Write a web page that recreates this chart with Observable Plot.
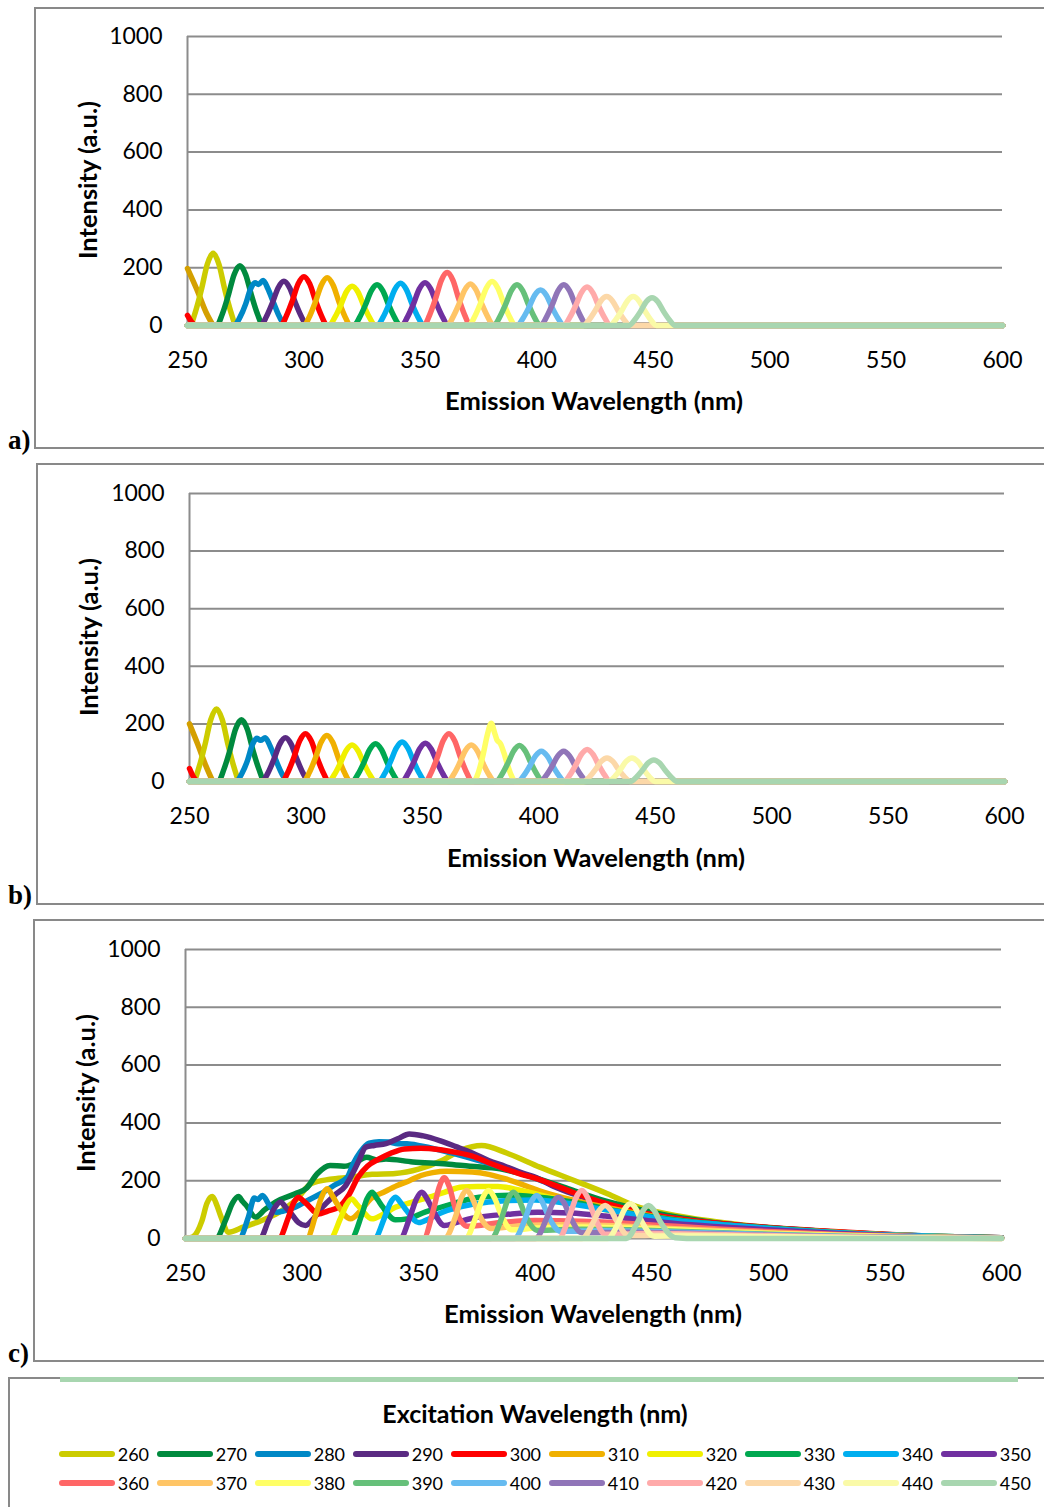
<!DOCTYPE html>
<html><head><meta charset="utf-8">
<script src="https://cdn.jsdelivr.net/npm/d3@7"></script>
<script src="https://cdn.jsdelivr.net/npm/@observablehq/plot@0.6"></script>
<style>
html,body{margin:0;padding:0;background:#fff;}
body{width:1044px;height:1507px;overflow:hidden;position:relative;font-family:Lato,"Open Sans",sans-serif;color:#000;}
.abs{position:absolute;}
.frame{position:absolute;border:2px solid #898989;box-sizing:border-box;}
.ctr{position:absolute;transform:translate(-50%,-50%);white-space:nowrap;}
.ttl{font-weight:bold;font-size:25.5px;}
.plab{position:absolute;font-family:"Liberation Serif","Times New Roman",serif;font-weight:bold;font-size:27px;line-height:1;}
svg{overflow:visible;}
</style></head><body>
<script>
// ---------- data ----------
const excitation = [260,270,280,290,300,310,320,330,340,350,360,370,380,390,400,410,420,430,440,450];
const palette = ["#cccc00","#008a3e","#0088c6","#5a2a82","#ff0000","#f0b000","#f0f000","#00a850","#00aeef","#7030a0",
                 "#ff6666","#ffc566","#ffff66","#66c07a","#66bbf0","#9075b8","#ffaaaa","#fcd8a8","#fafaa8","#a8d6b0"];
const xTicks = [250,300,350,400,450,500,550,600];
const yTicks = [0,200,400,600,800,1000];
const xTitle = "Emission Wavelength (nm)";
const yTitle = "Intensity (a.u.)";
const legendTitle = "Excitation Wavelength (nm)";

// unlabelled scatter tail at the left edge (panels a, b)
const extraA = [[250,197],[254,125],[258,45],[261,0]];
const extraB = [[250,200],[253.5,130],[257,55],[260,0]];

const spectraA = [
 [[250,0],[251,0],[253.5,50],[256,125],[258.5,212],[261,250],[263.5,212],[266,125],[268.5,50],[271,0],[600,0]],
 [[250,0],[262.5,0],[265,41],[267.5,104],[270,176],[272.5,207],[275,176],[277.5,104],[280,41],[282.5,0],[600,0]],
 [[250,0],[270,0],[272.5,28],[275,75],[277,125],[279,148],[280.5,142],[282.5,156],[284.5,128],[287,78],[289.5,30],[292,0],[600,0]],
 [[250,0],[281.4,0],[283.9,31],[286.4,77],[288.9,130],[291.4,153],[293.9,130],[296.4,77],[298.9,31],[301.4,0],[600,0]],
 [[250,35],[252,10],[254,0],[290,0],[292.5,34],[295,85],[297.5,144],[300,169],[302.5,144],[305,85],[307.5,34],[310,0],[600,0]],
 [[250,0],[300,0],[302.5,33],[305,83],[307.5,140],[310,165],[312.5,140],[315,83],[317.5,33],[320,0],[600,0]],
 [[250,0],[310.7,0],[313.2,27],[315.7,68],[318.2,116],[320.7,136],[323.2,116],[325.7,68],[328.2,27],[330.7,0],[600,0]],
 [[250,0],[321.4,0],[323.9,28],[326.4,71],[328.9,120],[331.4,141],[333.9,120],[336.4,71],[338.9,28],[341.4,0],[600,0]],
 [[250,0],[331.5,0],[334,29],[336.5,73],[339,124],[341.5,146],[344,124],[346.5,73],[349,29],[351.5,0],[600,0]],
 [[250,0],[342,0],[344.5,30],[347,74],[349.5,126],[352,148],[354.5,126],[357,74],[359.5,30],[362,0],[600,0]],
 [[250,0],[351.5,0],[354,37],[356.5,92],[359,156],[361.5,183],[364,156],[366.5,92],[369,37],[371.5,0],[600,0]],
 [[250,0],[361.5,0],[364,29],[366.5,72],[369,122],[371.5,144],[374,122],[376.5,72],[379,29],[381.5,0],[600,0]],
 [[250,0],[370.8,0],[373.3,30],[375.8,76],[378.3,129],[380.8,152],[383.3,129],[385.8,76],[388.3,30],[390.8,0],[600,0]],
 [[250,0],[381.5,0],[384,28],[386.5,71],[389,120],[391.5,141],[394,120],[396.5,71],[399,28],[401.5,0],[600,0]],
 [[250,0],[391.6,0],[394.1,25],[396.6,62],[399.1,105],[401.6,123],[404.1,105],[406.6,62],[409.1,25],[411.6,0],[600,0]],
 [[250,0],[401.6,0],[404.1,28],[406.6,71],[409.1,120],[411.6,141],[414.1,120],[416.6,71],[419.1,28],[421.6,0],[600,0]],
 [[250,0],[411.6,0],[414.1,27],[416.6,67],[419.1,113],[421.6,133],[424.1,113],[426.6,67],[429.1,27],[431.6,0],[600,0]],
 [[250,0],[420,0],[422.5,20],[425,50],[427.5,85],[430,100],[432.5,85],[435,50],[437.5,20],[440,0],[600,0]],
 [[250,0],[431.4,0],[433.9,20],[436.4,50],[438.9,85],[441.4,100],[443.9,85],[446.4,50],[448.9,20],[451.4,0],[600,0]],
 [[250,0],[439.5,0],[442,19],[444.5,48],[447,82],[449.5,96],[452,82],[454.5,48],[457,19],[459.5,0],[600,0]]
];

const spectraB = [
 [[250,0],[251.6,0],[254.1,50],[256.6,126],[259.1,214],[261.6,252],[264.1,214],[266.6,126],[269.1,50],[271.6,0],[600,0]],
 [[250,0],[262.3,0],[264.8,43],[267.3,107],[269.8,182],[272.3,214],[274.8,182],[277.3,107],[279.8,43],[282.3,0],[600,0]],
 [[250,0],[270,0],[272.5,28],[275,75],[277,128],[279,150],[280.5,143],[282.5,152],[284.5,125],[287,76],[289.5,30],[292,0],[600,0]],
 [[250,0],[281.2,0],[283.7,30],[286.2,76],[288.7,129],[291.2,152],[293.7,129],[296.2,76],[298.7,30],[301.2,0],[600,0]],
 [[250,45],[252,12],[254,0],[289.8,0],[292.3,33],[294.8,83],[297.3,141],[299.8,166],[302.3,141],[304.8,83],[307.3,33],[309.8,0],[600,0]],
 [[250,0],[299,0],[301.5,32],[304,80],[306.5,136],[309,160],[311.5,136],[314,80],[316.5,32],[319,0],[600,0]],
 [[250,0],[309.8,0],[312.3,25],[314.8,64],[317.3,108],[319.8,127],[322.3,108],[324.8,64],[327.3,25],[329.8,0],[600,0]],
 [[250,0],[319.9,0],[322.4,26],[324.9,66],[327.4,111],[329.9,131],[332.4,111],[334.9,66],[337.4,26],[339.9,0],[600,0]],
 [[250,0],[331.3,0],[333.8,27],[336.3,69],[338.8,116],[341.3,137],[343.8,116],[346.3,69],[348.8,27],[351.3,0],[600,0]],
 [[250,0],[341.3,0],[343.8,27],[346.3,67],[348.8,113],[351.3,133],[353.8,113],[356.3,67],[358.8,27],[361.3,0],[600,0]],
 [[250,0],[351.4,0],[353.9,33],[356.4,83],[358.9,141],[361.4,166],[363.9,141],[366.4,83],[368.9,33],[371.4,0],[600,0]],
 [[250,0],[361,0],[363.5,25],[366,64],[368.5,108],[371,127],[373.5,108],[376,64],[378.5,25],[381,0],[600,0]],
 [[250,0],[372,0],[374,30],[376,90],[378,165],[379.6,202],[381,170],[382,145],[383.5,132],[385,100],[386.5,60],[388,25],[390,0],[600,0]],
 [[250,0],[381.7,0],[384.2,25],[386.7,63],[389.2,106],[391.7,125],[394.2,106],[396.7,63],[399.2,25],[401.7,0],[600,0]],
 [[250,0],[391.1,0],[393.6,21],[396.1,53],[398.6,89],[401.1,105],[403.6,89],[406.1,53],[408.6,21],[411.1,0],[600,0]],
 [[250,0],[400.7,0],[403.2,21],[405.7,53],[408.2,89],[410.7,105],[413.2,89],[415.7,53],[418.2,21],[420.7,0],[600,0]],
 [[250,0],[410.8,0],[413.3,22],[415.8,56],[418.3,94],[420.8,111],[423.3,94],[425.8,56],[428.3,22],[430.8,0],[600,0]],
 [[250,0],[419.3,0],[421.8,16],[424.3,41],[426.8,70],[429.3,82],[431.8,70],[434.3,41],[436.8,16],[439.3,0],[600,0]],
 [[250,0],[430,0],[432.5,16],[435,41],[437.5,70],[440,82],[442.5,70],[445,41],[447.5,16],[450,0],[600,0]],
 [[250,0],[439.4,0],[441.9,15],[444.4,38],[446.9,64],[449.4,75],[451.9,64],[454.4,38],[456.9,15],[459.4,0],[600,0]]
];

const spectraC = [
 [[250,0],[253,5],[257,60],[259.2,122],[261.5,145],[263.3,118],[265,80],[268.5,22],[275,40],[282,60],[290,90],[297,130],[304,190],[312,205],[321,212],[330,222],[340,225],[350,240],[360,270],[368,305],[377,322],[388,295],[402,247],[417,200],[431,155],[442,115],[460,80],[474,62],[488,48],[520,25],[550,12],[575,5],[600,2]],
 [[250,0],[263,0],[267.5,70],[270.2,123],[272.7,145],[274.5,128],[276,115],[280,74],[284,100],[288.6,126],[297,155],[302,175],[306.5,224],[312,253],[318,250],[322,258],[327.7,281],[332,272],[336,275],[347.5,265],[362,258],[372,250],[385,241],[400,210],[415,170],[430,130],[445,100],[460,75],[474,58],[488,45],[520,27],[550,14],[575,7],[600,3]],
 [[250,0],[273,0],[277,75],[279.5,140],[281,135],[283,149],[286,115],[289,91],[292,95],[297,108],[302,130],[308,155],[314,185],[319.4,212],[322,260],[325,300],[328.8,330],[333,335],[337,334],[341,328],[345,328],[351,320],[357,310],[364,296],[371,281],[378,265],[385,247],[394,225],[401.5,204],[416,158],[430,121],[444,92],[460,70],[474,56],[488,45],[520,27],[550,14],[575,7],[600,3]],
 [[250,0],[282,0],[285.5,60],[288.3,107],[290.8,126],[293,108],[295,90],[298.5,55],[301.5,45],[305,70],[308.7,108],[314,150],[318.7,183],[322,230],[324.4,270],[327.3,316],[331,322],[336,328],[341,345],[346,362],[352,355],[359,339],[366,318],[373,296],[380,270],[387,250],[394,228],[401.5,207],[408,180],[416,155],[423,137],[430,120],[437,105],[444,91],[452,80],[460,69],[474,55],[488,45],[510,31],[530,21],[550,13],[575,6],[600,2]],
 [[250,0],[290,0],[294,70],[296.3,122],[298.5,143],[300.3,132],[302,120],[307,85],[311,95],[315.6,108],[320,150],[324,212],[328,250],[333,275],[338,295],[344,310],[351,312],[358.5,308],[366,298],[373,285],[380,262],[387,241],[394,222],[401.5,205],[416,160],[430,122],[444,93],[460,70],[474,56],[488,46],[520,28],[550,15],[575,7],[600,3]],
 [[250,0],[302,0],[306,85],[308.5,146],[310.8,172],[313,148],[315,120],[320.8,68],[325,95],[329.4,137],[335,160],[340.8,183],[346,200],[351,218],[356,228],[362,233],[373,230],[380,222],[387,207],[394,188],[401.5,166],[415,135],[430,108],[445,85],[460,65],[474,52],[488,42],[520,25],[550,13],[575,6],[600,2]],
 [[250,0],[312,0],[316.5,70],[319,116],[321.3,137],[323.5,118],[325.5,100],[330,68],[335,85],[340,108],[347,125],[354.5,143],[361,160],[368.7,178],[375,180],[384,180],[394,166],[405,145],[420,118],[435,92],[450,72],[465,57],[480,46],[500,35],[530,20],[560,10],[600,2]],
 [[250,0],[321,0],[325.5,80],[327.8,136],[330,160],[332.3,136],[334.5,110],[340,65],[345,68],[353,92],[362,114],[376,143],[390,150],[405,140],[420,120],[435,95],[450,75],[470,55],[490,42],[520,25],[550,12],[600,2]],
 [[250,0],[331,0],[335.5,75],[337.8,122],[340,143],[342.5,122],[345,95],[350,55],[355,70],[360,90],[373,118],[387,131],[400,133],[415,120],[430,100],[445,80],[460,62],[480,48],[500,35],[530,20],[560,10],[600,2]],
 [[250,0],[342,0],[346.5,80],[349,136],[351.4,160],[353.7,136],[356,100],[361,45],[366,55],[373,70],[390,85],[401,91],[415,88],[430,78],[445,65],[460,52],[480,40],[500,30],[530,17],[560,8],[600,2]],
 [[250,0],[352,0],[356.5,105],[358.8,178],[361,210],[363.2,178],[365.5,110],[371,42],[385,55],[400,62],[420,60],[440,52],[460,42],[480,32],[500,24],[530,14],[560,7],[600,1]],
 [[250,0],[361,0],[366,80],[368.3,141],[370.7,166],[373,140],[375.5,90],[381,35],[395,45],[410,48],[430,45],[450,38],[470,30],[500,20],[530,12],[600,1]],
 [[250,0],[370,0],[375,85],[377.5,141],[380,166],[382.5,141],[385,90],[390,30],[400,36],[420,40],[440,36],[460,30],[490,20],[530,10],[600,1]],
 [[250,0],[381,0],[386,80],[388.3,136],[390.7,160],[393,136],[395.5,85],[401,28],[420,32],[440,30],[460,25],[490,17],[530,8],[600,1]],
 [[250,0],[391,0],[396,75],[398.3,127],[400.7,149],[403,127],[405.5,80],[411,25],[430,27],[450,24],[470,20],[500,13],[540,6],[600,1]],
 [[250,0],[400,0],[405,72],[407.5,122],[410,143],[412.5,122],[415,75],[420,20],[440,22],[460,19],[490,13],[530,6],[600,1]],
 [[250,0],[410,0],[415,85],[417.5,141],[420,166],[422.5,141],[425,85],[430,15],[450,17],[470,15],[500,10],[540,4],[600,0]],
 [[250,0],[420,0],[425,58],[427.5,97],[430,114],[432.5,97],[435,60],[440,10],[460,12],[490,9],[530,4],[600,0]],
 [[250,0],[431,0],[436,60],[438.4,102],[440.8,120],[443.2,102],[445.5,62],[451,8],[470,9],[500,6],[540,2],[600,0]],
 [[250,0],[439,0],[444,58],[446.3,97],[448.6,114],[451,97],[453.5,60],[460,3],[470,0],[600,0]]
];

// ---------- drawing ----------
const GRID = "#8c8c8c";
const LW = 5.5;
const TICK_FS = 23;
const panels = [
  {spectra: spectraA, extra: extraA, extraColor: "#d4a000", frame:{l:34,t:7,b:448}, plot:{l:187,r:1002,t:36,b:325}, lab:"a)", labY:449, xt:{x:594,y:400}, yt:{x:87,y:180}},
  {spectra: spectraB, extra: extraB, extraColor: "#d4a000", frame:{l:36,t:463,b:904}, plot:{l:189,r:1004,t:493,b:781}, lab:"b)", labY:904, xt:{x:596,y:857}, yt:{x:88,y:637}},
  {spectra: spectraC, extra: null, frame:{l:33,t:919,b:1361}, plot:{l:185,r:1001,t:949,b:1238}, lab:"c)", labY:1362, xt:{x:593,y:1313}, yt:{x:85,y:1093}}
];

function addDiv(cls, css, html){
  const d = document.createElement("div");
  d.className = cls; d.style.cssText = css; if (html != null) d.innerHTML = html;
  document.body.appendChild(d); return d;
}

for (const p of panels) {
  addDiv("frame", `left:${p.frame.l}px;top:${p.frame.t}px;width:1200px;height:${p.frame.b - p.frame.t + 1}px;`);
  const svgTop = p.frame.t + 4;
  const marginBottom = 70;
  const lineMarks = [];
  const lineOpts = {x: d => d[0], y: d => d[1], strokeWidth: LW, curve: "monotone-x", strokeLinecap: "round", strokeLinejoin: "round"};
  if (p.extra) lineMarks.push(Plot.line(p.extra, {...lineOpts, stroke: p.extraColor}));
  p.spectra.forEach((s, i) => lineMarks.push(Plot.line(s, {...lineOpts, stroke: palette[i]})));
  const chart = Plot.plot({
    width: 1044,
    height: p.plot.b - svgTop + marginBottom,
    marginTop: p.plot.t - svgTop,
    marginLeft: p.plot.l,
    marginRight: 1044 - p.plot.r,
    marginBottom,
    x: {domain: [250, 600]},
    y: {domain: [0, 1000]},
    style: {fontFamily: "Lato, 'Open Sans', sans-serif", fontSize: TICK_FS + "px", color: "#000", background: "transparent", overflow: "visible"},
    marks: [
      Plot.gridY(yTicks, {stroke: GRID, strokeOpacity: 1, strokeWidth: 2}),
      Plot.ruleX([250], {y1: 0, y2: 1000, stroke: GRID, strokeWidth: 2}),
      Plot.axisY(yTicks, {tickSize: 0, tickPadding: 25, label: null, fontSize: TICK_FS, tickFormat: d => String(d)}),
      Plot.axisX(xTicks, {tickSize: 0, tickPadding: 26, label: null, fontSize: TICK_FS, tickFormat: d => String(d)}),
      ...lineMarks
    ]
  });
  chart.style.position = "absolute";
  chart.style.left = "0px";
  chart.style.top = svgTop + "px";
  document.body.appendChild(chart);
  addDiv("ctr ttl", `left:${p.xt.x}px;top:${p.xt.y}px;`, xTitle);
  addDiv("ctr ttl", `left:${p.yt.x}px;top:${p.yt.y}px;transform:translate(-50%,-50%) rotate(-90deg);`, yTitle);
  addDiv("plab", `left:8px;top:${p.labY - 22}px;`, p.lab);
}

// ---------- legend ----------
addDiv("frame", "left:8px;top:1377px;width:1200px;height:200px;");
addDiv("abs", "left:60px;top:1377px;width:958px;height:5px;background:" + palette[19] + ";");
addDiv("ctr ttl", "left:535px;top:1413px;font-size:25px;", legendTitle);
excitation.forEach((ex, i) => {
  const row = Math.floor(i / 10), col = i % 10;
  const x0 = 58.7 + col * 98;
  const yc = row === 0 ? 1454 : 1482.5;
  addDiv("abs", `left:${x0}px;top:${yc - 3}px;width:56px;height:6px;border-radius:3px;background:${palette[i]};`);
  addDiv("abs", `left:${x0 + 59}px;top:${yc - 11}px;font-size:18px;line-height:22px;`, String(ex));
});
</script>
</body></html>
